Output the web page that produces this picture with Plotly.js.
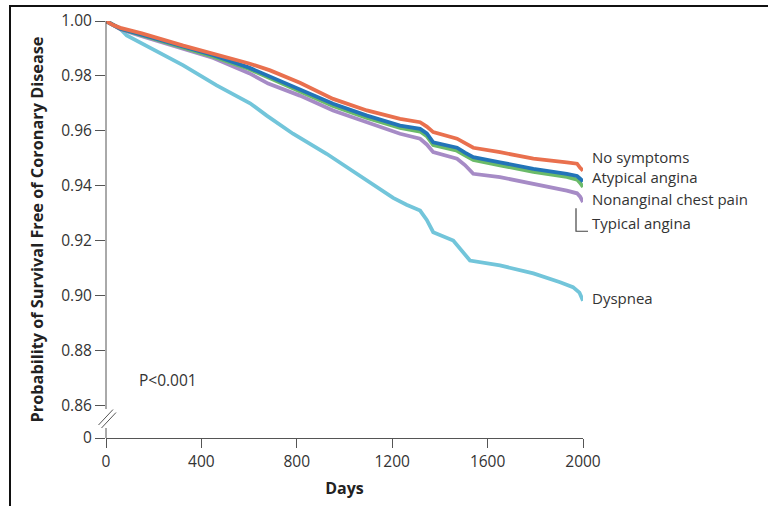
<!DOCTYPE html>
<html>
<head>
<meta charset="utf-8">
<script src="https://cdn.plot.ly/plotly-3.0.1.min.js"></script>
<style>
  html, body { margin: 0; padding: 0; background: #fff; }
  #wrap { position: relative; width: 768px; height: 506px; }
  #chart { position: absolute; left: 0; top: 0; width: 768px; height: 506px; }
  #frame { position: absolute; left: 9px; top: 5px; width: 759px; height: 501px;
           border-top: 2px solid #111; border-left: 2px solid #111; box-sizing: border-box;
           pointer-events: none; z-index: 5; }
</style>
</head>
<body>
<div id="wrap">
  <div id="chart"></div>
  <div id="frame"></div>
</div>
<script>
// ---- Data ----
const seriesNames = ["No symptoms", "Atypical angina", "Nonanginal chest pain", "Typical angina", "Dyspnea"];

const noSymptomsDays = [0, 30, 60, 150, 324, 450, 600, 688, 813, 952, 1094, 1233, 1317, 1345, 1372, 1472, 1505, 1540, 1652, 1792, 1932, 1975, 1988, 2000];
const noSymptomsSurv = [1.0, 0.9985, 0.9975, 0.9955, 0.991, 0.988, 0.9845, 0.982, 0.9775, 0.9716, 0.9674, 0.9643, 0.9631, 0.9615, 0.9595, 0.9571, 0.9555, 0.9538, 0.9522, 0.9498, 0.9485, 0.948, 0.9465, 0.9455];

const atypicalDays = [0, 30, 60, 150, 324, 450, 600, 680, 813, 952, 1094, 1233, 1317, 1345, 1372, 1472, 1505, 1540, 1652, 1792, 1932, 1975, 1988, 2000];
const atypicalSurv = [1.0, 0.9985, 0.9972, 0.995, 0.9905, 0.9875, 0.983, 0.980, 0.9753, 0.9698, 0.9655, 0.9619, 0.9607, 0.959, 0.9558, 0.9538, 0.952, 0.9504, 0.9485, 0.9461, 0.9443, 0.9435, 0.9425, 0.9415];

const nonanginalDays = [0, 30, 60, 150, 324, 450, 600, 680, 813, 952, 1094, 1233, 1317, 1345, 1372, 1472, 1505, 1540, 1652, 1792, 1932, 1975, 1988, 2000];
const nonanginalSurv = [1.0, 0.9985, 0.9972, 0.9948, 0.9902, 0.987, 0.9825, 0.9795, 0.9745, 0.969, 0.9647, 0.961, 0.9597, 0.958, 0.9548, 0.9527, 0.951, 0.9494, 0.9474, 0.945, 0.9432, 0.9422, 0.941, 0.9395];

const typicalDays = [0, 30, 60, 150, 324, 450, 600, 680, 813, 952, 1094, 1233, 1317, 1345, 1372, 1472, 1505, 1540, 1652, 1792, 1932, 1975, 1988, 2000];
const typicalSurv = [1.0, 0.9985, 0.997, 0.9945, 0.9898, 0.9865, 0.981, 0.9772, 0.9728, 0.9674, 0.9631, 0.9589, 0.9571, 0.955, 0.9522, 0.9498, 0.9475, 0.9443, 0.9431, 0.9407, 0.9382, 0.9372, 0.936, 0.934];

const dyspneaDays = [0, 30, 59, 87, 184, 324, 464, 604, 674, 784, 925, 1065, 1204, 1260, 1317, 1345, 1372, 1456, 1526, 1652, 1792, 1904, 1958, 1985, 2000];
const dyspneaSurv = [1.0, 0.9985, 0.9972, 0.9947, 0.9904, 0.9838, 0.9765, 0.970, 0.9655, 0.9589, 0.9516, 0.9437, 0.9355, 0.933, 0.9309, 0.9275, 0.923, 0.920, 0.9127, 0.9109, 0.908, 0.9048, 0.903, 0.901, 0.898];

const xTickVals = [0, 400, 800, 1200, 1600, 2000];
const xTickText = ["0", "400", "800", "1200", "1600", "2000"];
const yTickVals = [0.848, 0.86, 0.88, 0.90, 0.92, 0.94, 0.96, 0.98, 1.00];
const yTickText = ["0", "0.86", "0.88", "0.90", "0.92", "0.94", "0.96", "0.98", "1.00"];

// label anchor values (survival level where each label sits)
const labelY = [0.9506, 0.9430, 0.9352, 0.9262, 0.8992];
const pValueText = "P<0.001";

// ---- Styling ----
const colors = ["#E9704E", "#2274B8", "#6BBB69", "#A68BC6", "#72C5DA"];
const FONT = "'Open Sans', 'Noto Sans', sans-serif";
const TXT = "#333333";

const dataSets = [
  [noSymptomsDays, noSymptomsSurv],
  [atypicalDays, atypicalSurv],
  [nonanginalDays, nonanginalSurv],
  [typicalDays, typicalSurv],
  [dyspneaDays, dyspneaSurv]
];
const drawOrder = [4, 3, 2, 1, 0];
const traces = drawOrder.map(i => ({
  type: "scatter", mode: "lines", name: seriesNames[i],
  x: dataSets[i][0], y: dataSets[i][1],
  line: { color: colors[i], width: 3.8, shape: "linear" },
  hoverinfo: "x+y+name"
}));

// paper-coordinate helpers for the decorative pieces
const P = { l: 106, t: 20.5, w: 477, h: 417.5 };
const px = v => (v - P.l) / P.w;
const py = v => (P.t + P.h - v) / P.h;

const annotations = seriesNames.map((n, i) => ({
  text: n, x: px(590), y: labelY[i], xref: "paper", yref: "y",
  xanchor: "left", yanchor: "middle", showarrow: false,
  font: { family: FONT, size: 15, color: TXT }
}));
annotations.push({
  text: pValueText, x: 128, y: 0.8693, xref: "x", yref: "y",
  xanchor: "left", yanchor: "middle", showarrow: false,
  font: { family: FONT, size: 15.5, color: TXT }
});

const axisCol = "#555555";
const shapes = [
  { type: "line", xref: "paper", yref: "paper", x0: 0, x1: 0, y0: py(409), y1: 1, line: { color: axisCol, width: 1 } },
  { type: "line", xref: "paper", yref: "paper", x0: 0, x1: 0, y0: 0, y1: py(428), line: { color: axisCol, width: 1 } },
  { type: "line", xref: "paper", yref: "paper", x0: px(98.5), y0: py(425), x1: px(113), y1: py(409.5), line: { color: axisCol, width: 1 } },
  { type: "line", xref: "paper", yref: "paper", x0: px(101.5), y0: py(428), x1: px(116), y1: py(412.5), line: { color: axisCol, width: 1 } },
  // bracket for "Typical angina"
  { type: "path", xref: "paper", yref: "paper",
    path: "M " + px(576) + " " + py(208) + " L " + px(576) + " " + py(231) + " L " + px(588) + " " + py(231),
    line: { color: "#444", width: 1.2 } }
];

const layout = {
  width: 768, height: 506,
  margin: { l: 106, r: 185, t: 20.5, b: 68 },
  paper_bgcolor: "#ffffff", plot_bgcolor: "#ffffff",
  showlegend: false,
  font: { family: FONT, color: TXT, size: 15.5 },
  xaxis: {
    range: [0, 2000], tickvals: xTickVals, ticktext: xTickText,
    showline: true, linecolor: axisCol, linewidth: 1,
    ticks: "outside", ticklen: 9, tickcolor: axisCol, tickwidth: 1,
    showgrid: false, zeroline: false,
    tickfont: { family: FONT, size: 15.5, color: TXT },
    title: { text: "<b>Days</b>", font: { family: FONT, size: 16, color: "#222" }, standoff: 12 }
  },
  yaxis: {
    range: [0.848, 1.0], tickvals: yTickVals, ticktext: yTickText,
    showline: false,
    ticks: "outside", ticklen: 10, tickcolor: axisCol, tickwidth: 1,
    showgrid: false, zeroline: false,
    tickfont: { family: FONT, size: 15.5, color: TXT },
    title: { text: "<b>Probability of Survival Free of Coronary Disease</b>", font: { family: FONT, size: 16.3, color: "#222" }, standoff: 13 }
  },
  annotations: annotations,
  shapes: shapes
};

Plotly.newPlot("chart", traces, layout, { displayModeBar: false, staticPlot: true });
</script>
</body>
</html>
